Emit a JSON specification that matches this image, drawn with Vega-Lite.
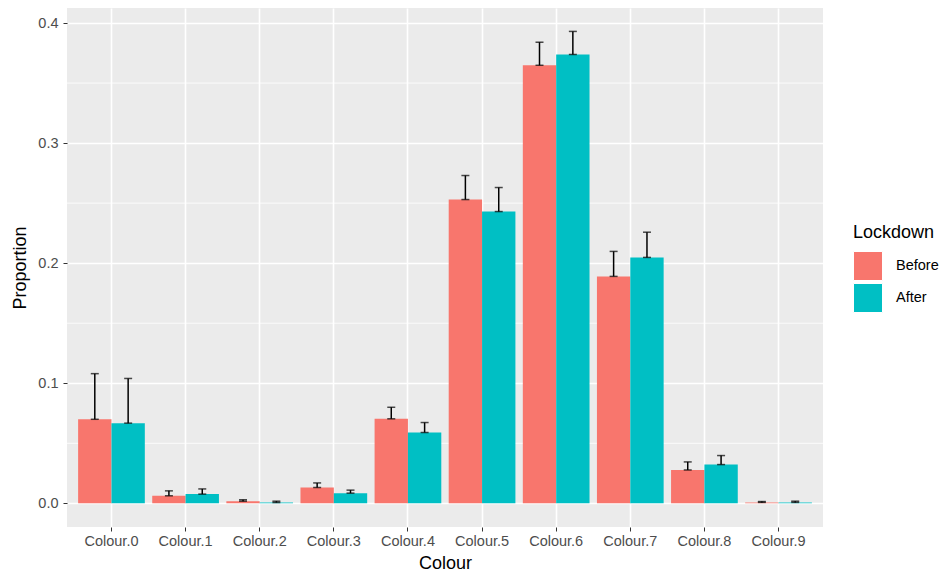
{
  "$schema": "https://vega.github.io/schema/vega-lite/v6.json",
  "width": 756,
  "height": 519,
  "autosize": {"type": "none"},
  "padding": {"left": 67, "top": 8, "right": 122, "bottom": 50},
  "background": "white",
  "config": {
    "font": "Liberation Sans",
    "view": {"fill": "#EBEBEB", "stroke": null},
    "axis": {
      "gridColor": "white",
      "gridWidth": 1.6,
      "domain": false,
      "tickColor": "#333333",
      "tickSize": 4,
      "tickWidth": 1,
      "labelColor": "#4D4D4D",
      "labelFontSize": 14.5,
      "titleFontSize": 18,
      "titleFontWeight": "normal",
      "titleColor": "black"
    },
    "legend": {
      "titleFontSize": 18,
      "titleFontWeight": "normal",
      "titleColor": "black",
      "labelFontSize": 14.5,
      "labelColor": "black"
    }
  },
  "data": {
    "values": [
      {"Colour": "Colour.0", "Lockdown": "Before", "value": 0.0700, "upper": 0.108},
      {"Colour": "Colour.0", "Lockdown": "After", "value": 0.0668, "upper": 0.104},
      {"Colour": "Colour.1", "Lockdown": "Before", "value": 0.0063, "upper": 0.0104},
      {"Colour": "Colour.1", "Lockdown": "After", "value": 0.0077, "upper": 0.0120},
      {"Colour": "Colour.2", "Lockdown": "Before", "value": 0.0018, "upper": 0.0030},
      {"Colour": "Colour.2", "Lockdown": "After", "value": 0.0007, "upper": 0.0018},
      {"Colour": "Colour.3", "Lockdown": "Before", "value": 0.0132, "upper": 0.0170},
      {"Colour": "Colour.3", "Lockdown": "After", "value": 0.0085, "upper": 0.0110},
      {"Colour": "Colour.4", "Lockdown": "Before", "value": 0.0704, "upper": 0.0800},
      {"Colour": "Colour.4", "Lockdown": "After", "value": 0.0590, "upper": 0.0673},
      {"Colour": "Colour.5", "Lockdown": "Before", "value": 0.2530, "upper": 0.2730},
      {"Colour": "Colour.5", "Lockdown": "After", "value": 0.2430, "upper": 0.2630},
      {"Colour": "Colour.6", "Lockdown": "Before", "value": 0.3648, "upper": 0.3840},
      {"Colour": "Colour.6", "Lockdown": "After", "value": 0.3738, "upper": 0.3930},
      {"Colour": "Colour.7", "Lockdown": "Before", "value": 0.1890, "upper": 0.2098},
      {"Colour": "Colour.7", "Lockdown": "After", "value": 0.2048, "upper": 0.2258},
      {"Colour": "Colour.8", "Lockdown": "Before", "value": 0.0278, "upper": 0.0345},
      {"Colour": "Colour.8", "Lockdown": "After", "value": 0.0323, "upper": 0.0398},
      {"Colour": "Colour.9", "Lockdown": "Before", "value": 0.0008, "upper": 0.0015},
      {"Colour": "Colour.9", "Lockdown": "After", "value": 0.0008, "upper": 0.0018}
    ]
  },
  "encoding": {
    "x": {
      "field": "Colour",
      "type": "nominal",
      "scale": {"paddingInner": 0.1, "paddingOuter": 0.15},
      "axis": {"labelAngle": 0, "bandPosition": 0.5, "grid": true, "title": "Colour", "labelPadding": 3, "titlePadding": 7}
    },
    "xOffset": {
      "field": "Lockdown",
      "type": "nominal",
      "sort": ["Before", "After"],
      "scale": {"paddingInner": 0, "paddingOuter": 0}
    }
  },
  "layer": [
    {
      "data": {"values": [{"g": 0.05}, {"g": 0.15}, {"g": 0.25}, {"g": 0.35}]},
      "mark": {"type": "rule", "color": "white", "strokeWidth": 0.8},
      "encoding": {
        "x": null,
        "xOffset": null,
        "y": {"field": "g", "type": "quantitative"}
      }
    },
    {
      "mark": {"type": "bar"},
      "encoding": {
        "y": {
          "field": "value",
          "type": "quantitative",
          "scale": {"domain": [-0.0197, 0.4125], "nice": false, "zero": false},
          "axis": {"values": [0, 0.1, 0.2, 0.3, 0.4], "format": ".1f", "title": "Proportion", "grid": true, "labelPadding": 5, "titlePadding": 8}
        },
        "y2": {"datum": 0},
        "color": {
          "field": "Lockdown",
          "type": "nominal",
          "scale": {"domain": ["Before", "After"], "range": ["#F8766D", "#00BFC4"]},
          "legend": {
            "title": "Lockdown",
            "orient": "none",
            "legendX": 786,
            "legendY": 216,
            "symbolType": "square",
            "symbolSize": 841,
            "symbolStrokeColor": "white",
            "symbolStrokeWidth": 1,
            "symbolOpacity": 1,
            "rowPadding": -2,
            "labelOffset": 13,
            "titlePadding": 9
          }
        }
      }
    },
    {
      "mark": {"type": "rule", "color": "black", "strokeWidth": 1.5},
      "encoding": {
        "y": {"field": "value", "type": "quantitative"},
        "y2": {"field": "upper"}
      }
    },
    {
      "mark": {"type": "tick", "color": "black", "thickness": 1.5, "size": 8, "orient": "horizontal"},
      "encoding": {
        "y": {"field": "upper", "type": "quantitative"}
      }
    },
    {
      "mark": {"type": "tick", "color": "black", "thickness": 1.5, "size": 8, "orient": "horizontal"},
      "encoding": {
        "y": {"field": "value", "type": "quantitative"}
      }
    }
  ]
}
